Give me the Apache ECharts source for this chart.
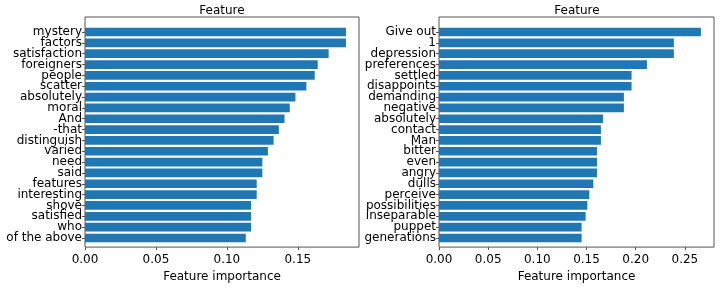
<!DOCTYPE html>
<html>
<head>
<meta charset="utf-8">
<script src="https://cdn.jsdelivr.net/npm/echarts@6/dist/echarts.min.js"></script>
<style>html,body{margin:0;padding:0;background:#fff}#c{width:720px;height:288px}</style>
</head>
<body>
<div id="c"></div>
<script>
const leftCategories = ["mystery","factors","satisfaction","foreigners","people","scatter","absolutely","moral","And","-that","distinguish","varied","need","said","features","interesting","shove","satisfied","who","of the above"];
const leftValues = [0.1839,0.1839,0.1717,0.1640,0.1619,0.1560,0.1483,0.1443,0.1406,0.1366,0.1329,0.1289,0.1250,0.1250,0.1210,0.1210,0.1170,0.1170,0.1170,0.1133];
const rightCategories = ["Give out","1","depression","preferences","settled","disappoints","demanding","negative","absolutely","contact","Man","bitter","even","angry","dulls","perceive","possibilities","inseparable","puppet","generations"];
const rightValues = [0.2663,0.2388,0.2388,0.2114,0.1958,0.1958,0.1880,0.1880,0.1667,0.1646,0.1646,0.1606,0.1606,0.1606,0.1569,0.1528,0.1508,0.1491,0.1450,0.1450];
const titles = ["Feature","Feature"];
const xAxisTitle = "Feature importance";

const FONT = "DejaVu Sans";
const leftMax = Math.max(...leftValues) * 1.05;
const rightMax = Math.max(...rightValues) * 1.05;

const chart = echarts.init(document.getElementById('c'), null, {renderer: 'canvas'});

function frameX(gi, max) {
  return {
    gridIndex: gi, type: 'value', min: 0, max: max, interval: 0.05,
    axisLine: {show: false},
    axisTick: {show: true, length: 3, lineStyle: {color: '#555'}},
    axisLabel: {show: true, margin: 7, color: '#000', fontFamily: FONT, fontSize: 12, showMaxLabel: false,
      formatter: v => v.toFixed(2)},
    splitLine: {show: false},
    name: xAxisTitle, nameLocation: 'middle', nameGap: 17,
    nameTextStyle: {color: '#000', fontFamily: FONT, fontSize: 12}
  };
}
function hiddenX(gi, max) {
  return {gridIndex: gi, type: 'value', min: 0, max: max, show: false, splitLine: {show: false}};
}
function hiddenY(gi) {
  return {gridIndex: gi, type: 'value', min: 0, max: 1, show: false, splitLine: {show: false}};
}
function catY(gi, cats) {
  return {
    gridIndex: gi, type: 'category', data: cats, inverse: true,
    axisLine: {show: false},
    axisTick: {show: true, length: 3, alignWithLabel: true, lineStyle: {color: '#555'}},
    axisLabel: {margin: 3, color: '#000', fontFamily: FONT, fontSize: 12, interval: 0},
    splitLine: {show: false}
  };
}

chart.setOption({
  animation: false,
  backgroundColor: '#fff',
  title: [
    {text: titles[0], left: 222, top: 5, textAlign: 'center', padding: 0,
     textStyle: {fontFamily: FONT, fontSize: 12, fontWeight: 'normal', color: '#000'}},
    {text: titles[1], left: 577, top: 5, textAlign: 'center', padding: 0,
     textStyle: {fontFamily: FONT, fontSize: 12, fontWeight: 'normal', color: '#000'}}
  ],
  grid: [
    {left: 85, right: 361, top: 17, bottom: 35, show: true, borderColor: '#555', borderWidth: 1, backgroundColor: 'transparent'},
    {left: 85, right: 361, top: 26.6, bottom: 44.6},
    {left: 439, right: 6, top: 17, bottom: 35, show: true, borderColor: '#555', borderWidth: 1, backgroundColor: 'transparent'},
    {left: 439, right: 6, top: 26.6, bottom: 44.6}
  ],
  xAxis: [frameX(0, leftMax), hiddenX(1, leftMax), frameX(2, rightMax), hiddenX(3, rightMax)],
  yAxis: [hiddenY(0), catY(1, leftCategories), hiddenY(2), catY(3, rightCategories)],
  series: [
    {type: 'bar', xAxisIndex: 1, yAxisIndex: 1, data: leftValues, barWidth: '80%',
     itemStyle: {color: '#1f77b4'}, silent: true},
    {type: 'bar', xAxisIndex: 3, yAxisIndex: 3, data: rightValues, barWidth: '80%',
     itemStyle: {color: '#1f77b4'}, silent: true}
  ]
});
</script>
</body>
</html>
